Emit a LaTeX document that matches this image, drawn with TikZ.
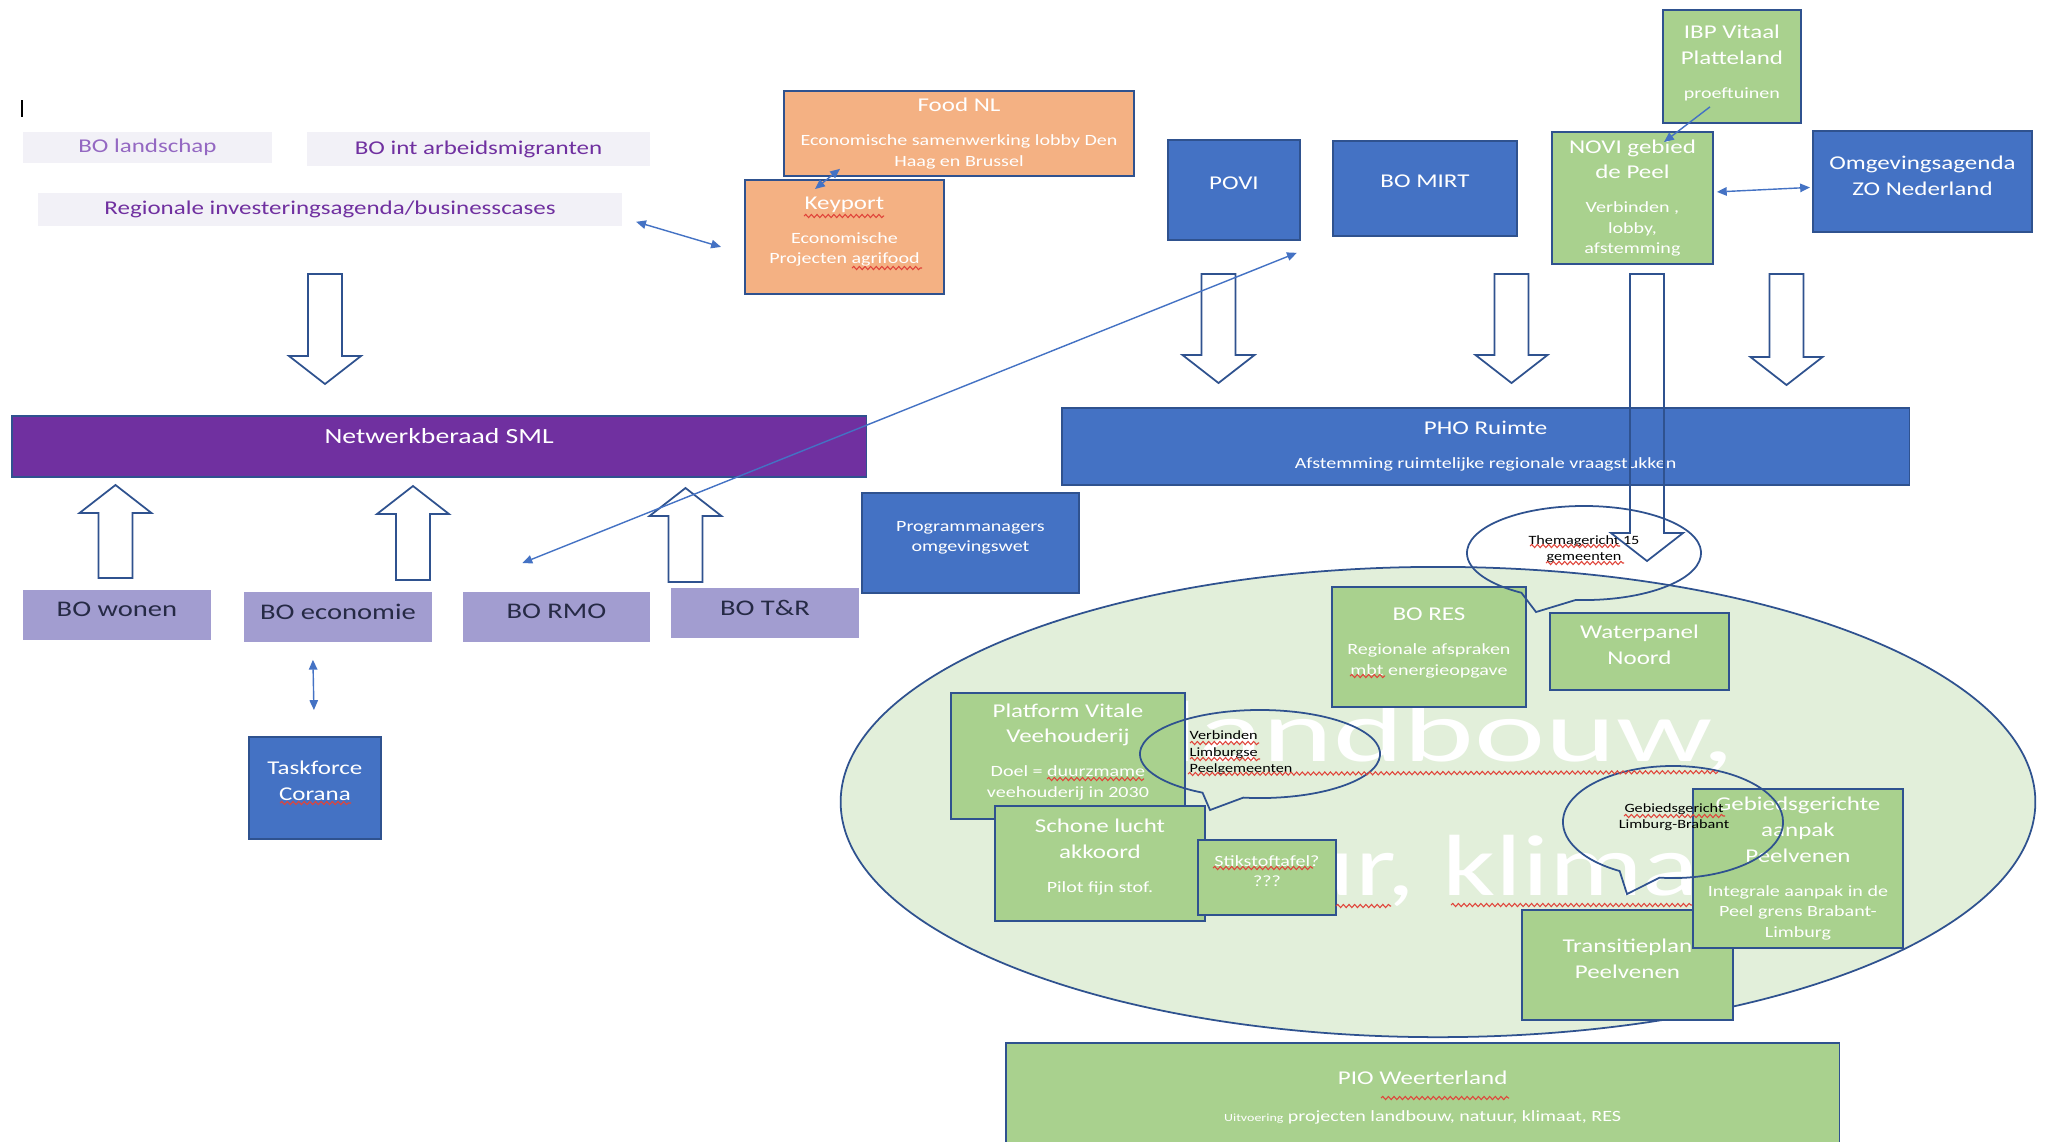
\documentclass[tikz,border=0pt]{standalone}
\usepackage{fontspec}
\setmainfont{Carlito}[FakeStretch=1.28]
\newfontfamily\wmfamily{Carlito}[FakeStretch=1.55]
\newfontfamily\wmfamilyb{Carlito}[FakeStretch=1.35]
\usetikzlibrary{arrows.meta,shapes.geometric,decorations.pathmorphing}

\definecolor{cBorder}{HTML}{2F528F}
\definecolor{cBlue}{HTML}{4472C4}
\definecolor{cGreen}{HTML}{A9D18E}
\definecolor{cOrange}{HTML}{F4B183}
\definecolor{cPurple}{HTML}{7030A0}
\definecolor{cLila}{HTML}{A29DD0}
\definecolor{cLilaText}{HTML}{262A45}
\definecolor{cLilaLight}{HTML}{9468C2}
\definecolor{cGrey}{HTML}{F2F1F7}
\definecolor{cEll}{HTML}{E2EFDA}
\definecolor{cLink}{HTML}{4472C4}
\definecolor{cSquig}{HTML}{E0443A}

\newcommand\fTitle{\fontsize{5.55}{7.3}\selectfont}
\newcommand\fSub{\fontsize{4.45}{5.8}\selectfont}
\newcommand\fNet{\fontsize{6.15}{7.5}\selectfont}
\newcommand\fBO{\fontsize{6.35}{7.5}\selectfont}
\newcommand\fBub{\fontsize{3.6}{4.7}\selectfont}
\newcommand\fTiny{\fontsize{3.1}{4}\selectfont}
% empty last row, lifts the text a little inside its box
\newcommand\rowlift[1]{\\[#1]\mbox{}}

\begin{document}
\begin{tikzpicture}[x=0.01cm, y=-0.01cm,
  blok/.style={draw=cBorder, line width=0.5pt, inner sep=0pt, anchor=north west,
    align=center, text=white, font=\fTitle},
  blueblok/.style={blok, fill=cBlue},
  greenblok/.style={blok, fill=cGreen},
  orangeblok/.style={blok, fill=cOrange},
  lilablok/.style={blok, draw=none, fill=cLila, text=cLilaText, font=\fBO, text depth=3pt,
    minimum width=1.88cm, minimum height=0.50cm},
  greyblok/.style={blok, draw=none, fill=cGrey, text=cPurple},
  bubtext/.style={font=\fBub, text=black, inner sep=0pt, align=center},
  bubble/.style={draw=cBorder, line width=0.5pt},
  wmark/.style={font=\wmfamily\fontsize{24.7}{30}\selectfont, text=white, inner sep=0pt},
  fatarr/.style={draw=cBorder, line width=0.5pt},
  link/.style={draw=cLink, line width=0.4pt, >={Triangle[length=2.8pt,width=2.4pt]}},
  squig/.style={draw=cSquig, line width=0.3pt, decorate,
    decoration={snake, segment length=1.6pt, amplitude=0.45pt}},
  pics/fatdown/.style={code={\draw[fatarr] (-17,0) -- (-17,#1) -- (-36,#1) -- (0,#1+28) -- (36,#1) -- (17,#1) -- (17,0) -- cycle;}},
  pics/fatup/.style={code={\draw[fatarr] (-17,0) -- (-17,-#1) -- (-36,-#1) -- (0,-#1-28) -- (36,-#1) -- (17,-#1) -- (17,0) -- cycle;}}
]
\useasboundingbox (0,0) rectangle (2051,1141);
\clip (0,0) rectangle (2051,1141);
\fill[white] (0,0) rectangle (2051,1141);

% big field
\node[draw=cBorder, fill=cEll, line width=0.5pt, ellipse, inner sep=0pt,
  minimum width=11.94cm, minimum height=4.70cm] (landfield) at (1438,802) {};
\node[wmark, anchor=base] (wmline1) at (1451,761) {landbouw,};
\node[wmark, font=\wmfamilyb\fontsize{24.7}{30}\selectfont, anchor=base] (wmline2) at (1435,895) {natuur, klimaat};

% top left
\draw[line width=0.7pt] (22,100) -- (22,117);
\node[greyblok, text=cLilaLight, minimum width=2.49cm, minimum height=0.31cm] (bolandschap) at (22,131) {BO landschap};
\node[greyblok, minimum width=3.43cm, minimum height=0.34cm] (bomigrant) at (306,131) {BO int arbeidsmigranten};
\node[greyblok, minimum width=5.84cm, minimum height=0.33cm] (investagenda) at (37,192) {Regionale investeringsagenda/businesscases};

% orange
\node[orangeblok, minimum width=3.50cm, minimum height=0.85cm] (foodnl) at (783,90) {Food NL\\[2.4pt]{\fSub Economische samenwerking lobby Den}\\[-1.5pt]{\fSub Haag en Brussel}};
\node[orangeblok, minimum width=1.99cm, minimum height=1.14cm] (keyport) at (744,179) {Keyport\\[2.4pt]{\fSub Economische}\\[-1.5pt]{\fSub Projecten agrifood}\rowlift{-3.55pt}};

% top right
\node[blueblok, text depth=4pt, minimum width=1.32cm, minimum height=1.00cm] (povi) at (1167,139) {POVI};
\node[blueblok, text depth=4pt, minimum width=1.84cm, minimum height=0.95cm] (bomirt) at (1332,140) {BO MIRT};
\node[greenblok, minimum width=1.38cm, minimum height=1.13cm] (ibp) at (1662,9) {IBP Vitaal\\Platteland\\[2.4pt]{\fSub proeftuinen}\rowlift{-4.7pt}};
\node[greenblok, minimum width=1.61cm, minimum height=1.32cm] (novi) at (1551,131) {NOVI gebied\\de Peel\\[2.4pt]{\fSub Verbinden ,}\\[-1.5pt]{\fSub lobby,}\\[-1.5pt]{\fSub afstemming}};
\node[blueblok, minimum width=2.19cm, minimum height=1.01cm] (omgagenda) at (1812,130) {Omgevingsagenda\\ZO Nederland\rowlift{-3.9pt}};

% middle bars
\node[blok, fill=cPurple, font=\fNet, text depth=5.7pt, minimum width=8.54cm, minimum height=0.61cm] (netwerk) at (11,415) {Netwerkberaad SML};
\node[blueblok, minimum width=8.47cm, minimum height=0.77cm] (phoruimte) at (1061,407) {PHO Ruimte\\[2.4pt]{\fSub Afstemming ruimtelijke regionale vraagstukken}};
\node[blueblok, font=\fSub, minimum width=2.17cm, minimum height=1.00cm] (progman) at (861,492) {Programmanagers\\omgevingswet\rowlift{-2.05pt}};

% BO row
\node[lilablok] (bowonen) at (22,589) {BO wonen};
\node[lilablok] (boeconomie) at (243,591) {BO economie};
\node[lilablok, minimum width=1.87cm] (bormo) at (462,591) {BO RMO};
\node[lilablok] (botr) at (670,587) {BO T\&R};
\node[blueblok, minimum width=1.32cm, minimum height=1.02cm] (taskforce) at (248,736) {Taskforce\\Corana\rowlift{-3.3pt}};

% inside the field
\node[greenblok, minimum width=2.34cm, minimum height=1.26cm] (platform) at (950,692) {Platform Vitale\\Veehouderij\\[2.4pt]{\fSub Doel = duurzmame}\\[-1.5pt]{\fSub veehouderij in 2030}\rowlift{-4.2pt}};
\node[greenblok, minimum width=2.10cm, minimum height=1.15cm] (schone) at (994,805) {Schone lucht\\akkoord\\[2.4pt]{\fSub Pilot fijn stof.}\rowlift{-3pt}};
\node[greenblok, font=\fSub, minimum width=1.38cm, minimum height=0.75cm] (stikstof) at (1197,839) {Stikstoftafel?\\???\rowlift{-2.1pt}};
\node[greenblok, minimum width=1.94cm, minimum height=1.20cm] (bores) at (1331,586) {BO RES\\[2.4pt]{\fSub Regionale afspraken}\\[-1.5pt]{\fSub mbt energieopgave}\rowlift{-4.2pt}};
\node[greenblok, minimum width=1.79cm, minimum height=0.77cm] (waterpanel) at (1549,612) {Waterpanel\\Noord\rowlift{-3.3pt}};
\node[greenblok, minimum width=2.11cm, minimum height=1.10cm] (transitie) at (1521,909) {Transitieplan\\Peelvenen\rowlift{-3.6pt}};
\node[greenblok, minimum width=2.10cm, minimum height=1.59cm] (gebiedsaanpak) at (1692,788) {Gebiedsgerichte\\aanpak\\Peelvenen\\[2.4pt]{\fSub Integrale aanpak in de}\\[-1.5pt]{\fSub Peel grens Brabant-}\\[-1.5pt]{\fSub Limburg}};

% speech bubbles
\draw[bubble] (1584,553) ++(266:1.17cm and 0.47cm) arc[start angle=266, end angle=597.7, x radius=1.17cm, y radius=0.47cm] -- (1536,612) -- cycle;
\node[bubtext] (thematxt) at (1584,549) {Themagericht 15\\gemeenten};
\draw[bubble] (1260,754) ++(262:1.20cm and 0.44cm) arc[start angle=262, end angle=601.4, x radius=1.20cm, y radius=0.44cm] -- (1210,810) -- cycle;
\node[bubtext, anchor=west, align=left] (verbtxt) at (1189,753) {Verbinden\\Limburgse\\Peelgemeenten};
\draw[bubble] (1673,822) ++(263:1.10cm and 0.56cm) arc[start angle=263, end angle=601, x radius=1.10cm, y radius=0.56cm] -- (1627,894) -- cycle;
\node[bubtext] (gebtxt) at (1674,817) {Gebiedsgericht\\Limburg-Brabant};

% bottom
\node[greenblok, minimum width=8.33cm, minimum height=1.10cm] (pio) at (1005,1042) {PIO Weerterland\\[3.2pt]{\fSub{\fTiny Uitvoering} projecten landbouw, natuur, klimaat, RES}};

% block arrows
\pic at (325,274) {fatdown=82};
\pic at (1218.5,274) {fatdown=81};
\pic at (1511.5,274) {fatdown=81};
\pic at (1647,274) {fatdown=259};
\pic at (1786.5,274) {fatdown=83};
\pic at (115.5,578) {fatup=65};
\pic at (413,580) {fatup=66};
\pic at (685.5,582) {fatup=66};

% thin links
\draw[link, <->] ([shift={(13,-5)}]investagenda.south east) -- ([shift={(-23,10)}]keyport.west);
\draw[link, <->] ([shift={(57,-8)}]foodnl.south west) -- ([shift={(71,10)}]keyport.north west);
\draw[link, ->] ([shift={(48,-17)}]ibp.south west) -- ([shift={(113,11)}]novi.north west);
\draw[link, <->] ([shift={(3,-6)}]novi.east) -- ([shift={(-2,6)}]omgagenda.west);
\draw[link, <->] ([shift={(-25,17)}]boeconomie.south) -- ([shift={(-1,-26)}]taskforce.north);
\draw[link, <->] ([shift={(-34,-28)}]bormo.north) -- ([shift={(-4,12)}]povi.south east);

% spelling marks
\draw[squig] (804,216) -- (884,216);
\draw[squig] (852,268) -- (922,268);
\draw[squig] (280,803) -- (351,803);
\draw[squig] (1530,546) -- (1620,546);
\draw[squig] (1546,563) -- (1624,563);
\draw[squig] (1350,676) -- (1385,676);
\draw[squig] (1047,779) -- (1144,779);
\draw[squig] (1190,743) -- (1259,743);
\draw[squig] (1190,759) -- (1260,759);
\draw[squig] (1188,774) -- (1718,772);
\draw[squig] (1213,868) -- (1313,868);
\draw[squig] (1336,906) -- (1391,906);
\draw[squig] (1451,905) -- (1692,905);
\draw[squig] (1624,816) -- (1725,816);
\draw[squig] (1381,1098) -- (1509,1098);
\end{tikzpicture}
\end{document}
